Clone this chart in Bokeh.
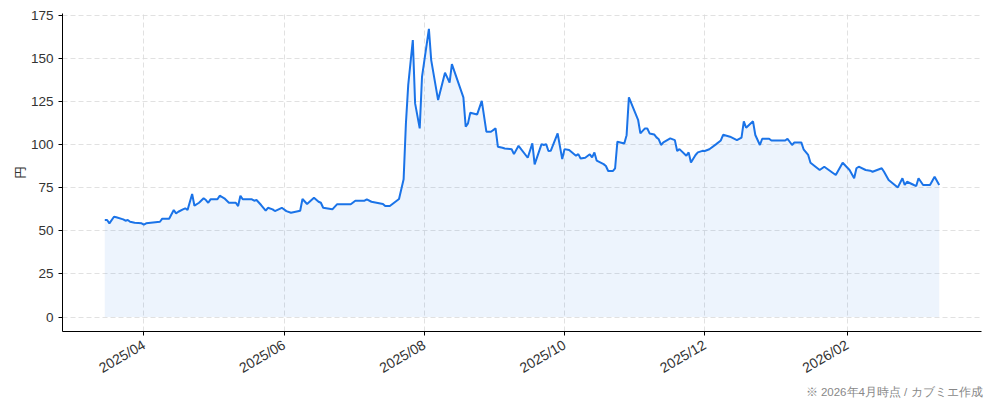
import math
from datetime import datetime, timedelta
from bokeh.plotting import figure
from bokeh.models import FixedTicker, Title, Range1d, ColumnDataSource
from bokeh.embed import file_html
from bokeh.resources import INLINE

# ---- data ----
dates = [
    "2025-03-15", "2025-03-16", "2025-03-17", "2025-03-19", "2025-03-20", "2025-03-23", "2025-03-24",
    "2025-03-25", "2025-03-26", "2025-03-28", "2025-03-31", "2025-04-01", "2025-04-02", "2025-04-08",
    "2025-04-09", "2025-04-12", "2025-04-14", "2025-04-15", "2025-04-16", "2025-04-18", "2025-04-19",
    "2025-04-20", "2025-04-22", "2025-04-23", "2025-04-25", "2025-04-27", "2025-04-28", "2025-04-29",
    "2025-04-30", "2025-05-03", "2025-05-04", "2025-05-06", "2025-05-08", "2025-05-11", "2025-05-12",
    "2025-05-13", "2025-05-14", "2025-05-18", "2025-05-19", "2025-05-20", "2025-05-22", "2025-05-24",
    "2025-05-25", "2025-05-27", "2025-05-28", "2025-05-31", "2025-06-02", "2025-06-04", "2025-06-08",
    "2025-06-09", "2025-06-11", "2025-06-14", "2025-06-16", "2025-06-17", "2025-06-18", "2025-06-22",
    "2025-06-24", "2025-06-30", "2025-07-02", "2025-07-06", "2025-07-07", "2025-07-09", "2025-07-14",
    "2025-07-15", "2025-07-17", "2025-07-21", "2025-07-23", "2025-07-24", "2025-07-25", "2025-07-27",
    "2025-07-28", "2025-07-30", "2025-07-31", "2025-08-03", "2025-08-04", "2025-08-07", "2025-08-10",
    "2025-08-12", "2025-08-13", "2025-08-18", "2025-08-19", "2025-08-20", "2025-08-21", "2025-08-24",
    "2025-08-26", "2025-08-28", "2025-08-30", "2025-09-01", "2025-09-02", "2025-09-04", "2025-09-05",
    "2025-09-08", "2025-09-09", "2025-09-11", "2025-09-15", "2025-09-17", "2025-09-18", "2025-09-21",
    "2025-09-22", "2025-09-23", "2025-09-24", "2025-09-25", "2025-09-28", "2025-09-30", "2025-10-01",
    "2025-10-03", "2025-10-06", "2025-10-07", "2025-10-08", "2025-10-10", "2025-10-12", "2025-10-13",
    "2025-10-14", "2025-10-15", "2025-10-18", "2025-10-19", "2025-10-20", "2025-10-22", "2025-10-23",
    "2025-10-24", "2025-10-27", "2025-10-28", "2025-10-29", "2025-11-02", "2025-11-03", "2025-11-05",
    "2025-11-06", "2025-11-07", "2025-11-09", "2025-11-10", "2025-11-11", "2025-11-12", "2025-11-13",
    "2025-11-16", "2025-11-18", "2025-11-19", "2025-11-20", "2025-11-23", "2025-11-24", "2025-11-25",
    "2025-11-27", "2025-11-28", "2025-11-30", "2025-12-01", "2025-12-03", "2025-12-06", "2025-12-08",
    "2025-12-09", "2025-12-12", "2025-12-15", "2025-12-17", "2025-12-18", "2025-12-19", "2025-12-22",
    "2025-12-23", "2025-12-25", "2025-12-26", "2025-12-29", "2025-12-30", "2026-01-05", "2026-01-06",
    "2026-01-08", "2026-01-09", "2026-01-12", "2026-01-13", "2026-01-15", "2026-01-16", "2026-01-20",
    "2026-01-22", "2026-01-27", "2026-01-30", "2026-02-02", "2026-02-04", "2026-02-05", "2026-02-06",
    "2026-02-09", "2026-02-11", "2026-02-12", "2026-02-16", "2026-02-17", "2026-02-19", "2026-02-23",
    "2026-02-25", "2026-02-26", "2026-02-27", "2026-03-02", "2026-03-03", "2026-03-04", "2026-03-06",
    "2026-03-09", "2026-03-11", "2026-03-13",
]
prices = [
    56.2, 56.2, 54.3, 58.1, 57.8, 56.6, 55.8,
    56.2, 55.2, 54.6, 54.3, 53.5, 54.3, 55.2,
    57.0, 57.0, 62.0, 60.1, 61.0, 62.4, 63.0,
    62.0, 71.3, 64.5, 66.2, 68.8, 67.8, 66.2,
    68.2, 68.2, 70.3, 68.8, 66.2, 66.2, 64.3,
    70.3, 68.2, 68.2, 67.4, 67.8, 64.9, 61.6,
    63.3, 62.4, 61.4, 63.3, 61.4, 60.4, 61.6,
    68.4, 65.5, 69.1, 66.8, 66.2, 63.3, 62.4,
    65.3, 65.3, 67.4, 67.4, 68.2, 66.8, 65.5,
    64.3, 64.3, 68.4, 79.8, 112.2, 134.4, 160.5,
    123.8, 109.3, 139.2, 167.0, 148.9, 125.7, 141.6,
    135.8, 146.6, 127.3, 110.3, 112.2, 118.4, 117.4,
    125.3, 107.4, 107.4, 109.3, 98.7, 98.1, 97.7,
    97.2, 94.4, 99.2, 92.3, 100.6, 88.5, 100.2,
    99.7, 100.2, 96.2, 96.3, 106.4, 91.5, 97.3,
    96.8, 93.5, 94.4, 91.9, 92.3, 94.3, 92.5,
    95.4, 90.6, 88.6, 87.5, 84.6, 84.6, 86.2,
    101.6, 100.6, 105.4, 127.3, 114.3, 106.4, 109.3,
    109.3, 106.4, 105.8, 104.1, 103.0, 99.7, 101.2,
    103.5, 102.5, 96.2, 97.3, 93.5, 95.4, 89.6,
    93.9, 95.4, 96.3, 96.2, 97.2, 100.2, 102.3,
    105.6, 104.5, 102.5, 104.0, 113.4, 109.7, 113.4,
    105.5, 99.7, 103.3, 103.3, 102.3, 102.3, 103.3,
    99.7, 101.2, 101.2, 97.2, 93.9, 89.4, 85.2,
    87.1, 82.3, 89.4, 85.2, 80.4, 86.2, 87.1,
    85.2, 84.8, 84.2, 86.2, 84.2, 79.4, 75.1,
    80.4, 76.5, 78.4, 76.5, 75.9, 80.4, 76.5,
    76.5, 81.3, 76.5,
]
tick_dates = ["2025-04-01", "2025-06-01", "2025-08-01", "2025-10-01", "2025-12-01", "2026-02-01"]
tick_labels = ["2025/04", "2025/06", "2025/08", "2025/10", "2025/12", "2026/02"]
y_ticks = [0, 25, 50, 75, 100, 125, 150, 175]
y_label = "円"
note = "※ 2026年4月時点 / カブミエ作成"

CJK_FONT = "Noto Sans CJK JP"
TICK_FONT = "Liberation Sans"
LINE_COLOR = "#1a73e8"

xs = [datetime.strptime(d, "%Y-%m-%d") for d in dates]
src = ColumnDataSource(dict(x=xs, y=prices, base=[0] * len(prices)))

base_day = datetime(2025, 4, 1)
x_start = base_day - timedelta(days=35.4)
x_end = base_day + timedelta(days=364.4)

p = figure(
    width=994, height=400,
    x_axis_type="datetime",
    x_range=Range1d(x_start, x_end),
    y_range=Range1d(-8.4, 175.9),
    output_backend="svg", toolbar_location=None,
    min_border_left=62, min_border_right=13, min_border_top=13, min_border_bottom=69,
)
p.outline_line_color = None
p.background_fill_color = "white"

p.varea(x="x", y1="base", y2="y", source=src, fill_color=LINE_COLOR, fill_alpha=0.08)
p.line(x="x", y="y", source=src, line_color=LINE_COLOR, line_width=2)

# x axis
tick_ms = [datetime.strptime(d, "%Y-%m-%d").timestamp() * 1000 for d in tick_dates]
p.xaxis.ticker = FixedTicker(ticks=tick_ms)
p.xaxis.major_label_overrides = {t: l for t, l in zip(tick_ms, tick_labels)}
p.xaxis.major_label_orientation = math.pi / 6
p.yaxis.ticker = FixedTicker(ticks=y_ticks)
p.yaxis.axis_label = y_label

for ax in (p.xaxis, p.yaxis):
    ax.axis_line_color = "black"
    ax.axis_line_width = 1
    ax.major_tick_line_color = "black"
    ax.major_tick_out = 4
    ax.major_tick_in = 0
    ax.minor_tick_line_color = None
    ax.major_label_text_font = TICK_FONT
    ax.major_label_text_color = "#333333"
    ax.axis_label_text_font = CJK_FONT
    ax.axis_label_text_font_size = "12px"
    ax.axis_label_text_font_style = "normal"
    ax.axis_label_text_color = "#333333"
    ax.axis_label_standoff = 0
p.xaxis.major_label_text_font_size = "14px"
p.yaxis.major_label_text_font_size = "13.5px"
p.xaxis.major_label_standoff = 8
p.yaxis.major_label_standoff = 5

for g in (p.xgrid, p.ygrid):
    g.grid_line_color = "#d9d9d9"
    g.grid_line_dash = "5 3"
    g.grid_line_width = 1
    g.grid_line_alpha = 0.8

t = Title(
    text=note, align="right", standoff=0, offset=1, vertical_align="top",
    text_font="Liberation Sans", text_font_size="11.5px", text_font_style="normal", text_color="#888888",
)
p.add_layout(t, "below")

open("out.html", "w").write(file_html(p, INLINE))
